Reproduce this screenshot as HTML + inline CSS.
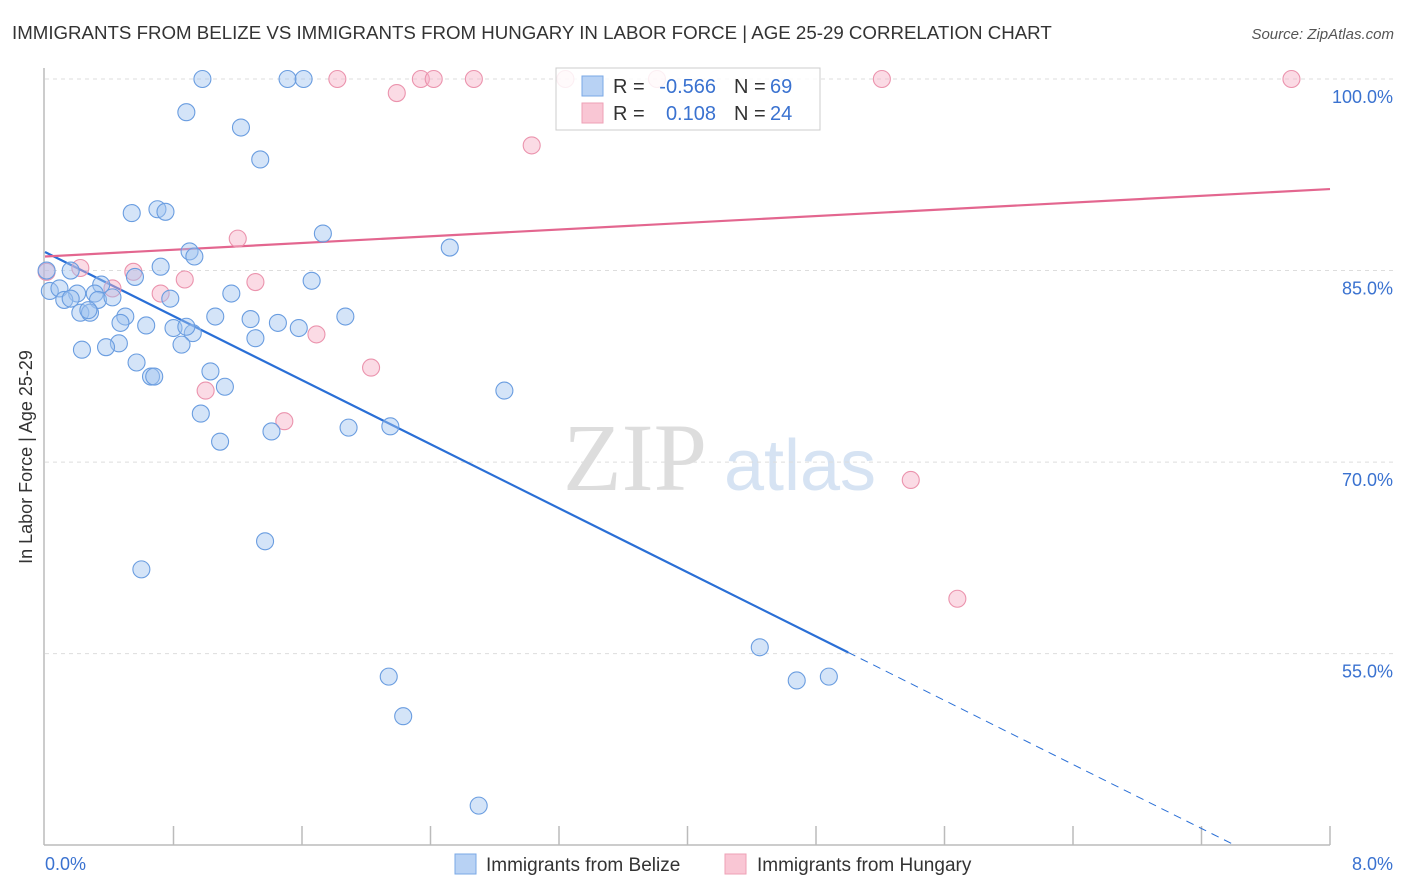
<!DOCTYPE html>
<html><head><meta charset="utf-8"><style>
body{margin:0;background:#fff;font-family:"Liberation Sans",sans-serif;}
svg{display:block}
</style></head><body>
<svg id="chart" width="1406" height="892" viewBox="0 0 1406 892" xmlns="http://www.w3.org/2000/svg">
<text x="12" y="39" font-size="18.7" fill="#333">IMMIGRANTS FROM BELIZE VS IMMIGRANTS FROM HUNGARY IN LABOR FORCE | AGE 25-29 CORRELATION CHART</text>
<text x="1394" y="39" font-size="15" fill="#555" font-style="italic" text-anchor="end">Source: ZipAtlas.com</text>
<g>
<text x="635" y="490" font-size="96" fill="#ddd" text-anchor="middle" font-family="Liberation Serif,serif">ZIP</text>
<text x="800" y="490" font-size="72" fill="#d6e3f3" text-anchor="middle">atlas</text>
</g>
<g id="grid"></g>
<g id="axes"></g>
<g id="trends"></g>
<g id="points"></g>
<text x="32" y="457" font-size="18" fill="#333" text-anchor="middle" transform="rotate(-90 32 457)">In Labor Force | Age 25-29</text>
<text x="45" y="870" font-size="18" fill="#3a72d0">0.0%</text>
<text x="1393" y="870" font-size="18" fill="#3a72d0" text-anchor="end">8.0%</text>
<g>
<rect x="556" y="68" width="264" height="62" fill="#fff" fill-opacity="0.85" stroke="#ccc"/>
<rect x="582" y="76" width="21" height="20" fill="#b8d2f4" stroke="#7aa8e6"/>
<rect x="582" y="103" width="21" height="20" fill="#f9c6d4" stroke="#eea0b6"/>
<text x="613" y="93" font-size="20" fill="#333">R =</text>
<text x="716" y="93" font-size="20" fill="#3a72d0" text-anchor="end">-0.566</text>
<text x="734" y="93" font-size="20" fill="#333">N =</text>
<text x="770" y="93" font-size="20" fill="#3a72d0">69</text>
<text x="613" y="120" font-size="20" fill="#333">R =</text>
<text x="716" y="120" font-size="20" fill="#3a72d0" text-anchor="end">0.108</text>
<text x="734" y="120" font-size="20" fill="#333">N =</text>
<text x="770" y="120" font-size="20" fill="#3a72d0">24</text>
</g>
<g>
<rect x="455" y="854" width="21" height="20" fill="#b8d2f4" stroke="#7aa8e6"/>
<text x="486" y="871" font-size="19" fill="#333">Immigrants from Belize</text>
<rect x="725" y="854" width="21" height="20" fill="#f9c6d4" stroke="#eea0b6"/>
<text x="757" y="871" font-size="19" fill="#333">Immigrants from Hungary</text>
</g>
</svg>
<script>
const blueX=[0.98,1.51,1.61,0.88,1.22,1.34,0.54,0.70,0.75,1.73,2.52,0.90,0.93,0.72,0.56,0.16,0.03,0.09,0.35,1.66,0.20,0.31,0.12,0.33,0.42,0.78,1.16,0.22,0.28,0.50,1.06,1.28,1.87,0.47,0.63,0.80,1.45,1.58,0.92,1.31,0.46,0.85,0.38,0.23,0.57,0.66,0.68,1.03,1.12,2.86,0.97,1.89,2.15,1.41,1.09,1.37,0.60,4.45,4.88,4.68,2.14,2.23,2.70,0.01,0.27,0.16,0.88];
const blueY=[100,100,100,97.4,96.2,93.7,89.5,89.8,89.6,87.9,86.8,86.5,86.1,85.3,84.5,85.0,83.4,83.6,83.9,84.2,83.2,83.2,82.7,82.7,82.9,82.8,83.2,81.7,81.7,81.4,81.4,81.2,81.4,80.9,80.7,80.5,80.9,80.5,80.1,79.7,79.3,79.2,79.0,78.8,77.8,76.7,76.7,77.1,75.9,75.6,73.8,72.7,72.8,72.4,71.6,63.8,61.6,55.5,53.2,52.9,53.2,50.1,43.1,85.0,81.9,82.8,80.6];
const pinkX=[1.82,2.34,2.42,2.67,3.24,3.81,5.21,7.76,2.19,3.03,1.20,0.22,0.55,0.01,0.87,1.31,0.72,0.42,1.69,2.03,1.00,1.49,5.39,5.68];
const pinkY=[100,100,100,100,100,100,100,100,98.9,94.8,87.5,85.2,84.9,84.9,84.3,84.1,83.2,83.6,80.0,77.4,75.6,73.2,68.6,59.3];
const yTicks=[100,85,70,55];
const yTickLabels=["100.0%","85.0%","70.0%","55.0%"];
const xTicks=[0,0.8,1.6,2.4,3.2,4.0,4.8,5.6,6.4,7.2,8.0];
const blueTrend=[86.45,-6.27]; // intercept, slope
const pinkTrend=[86.1,0.66];
const blueSolidEnd=5.0, blueDashEnd=7.41;
const NS="http://www.w3.org/2000/svg";
const X0=45,X1=1330,Y100=79,PXPER=12.77;
function sx(v){return X0+(v/8)*(X1-X0);}
function sy(v){return Y100+(100-v)*PXPER;}
function mk(tag,attrs,parent){const e=document.createElementNS(NS,tag);for(const k in attrs)e.setAttribute(k,attrs[k]);parent.appendChild(e);return e;}
const grid=document.getElementById('grid'),axes=document.getElementById('axes'),trends=document.getElementById('trends'),pts=document.getElementById('points');
yTicks.forEach((t,i)=>{
 const l=mk('line',{x1:X0,x2:1393,y1:sy(t),y2:sy(t),stroke:'#ddd','stroke-dasharray':'4 4'},grid);
 
 
 const tx=mk('text',{x:1393,y:sy(t)+24,'font-size':18,fill:'#3a72d0','text-anchor':'end'},grid);
 tx.textContent=yTickLabels[i];
 
 
});
const ya=mk('line',{x1:44,x2:44,y1:68,y2:845,stroke:'#bbb','stroke-width':1.5},axes);


const xa=mk('line',{x1:44,x2:1330,y1:845,y2:845,stroke:'#bbb','stroke-width':1.5},axes);


xTicks.forEach(t=>{
 if(t===0)return;
 const l=mk('line',{x1:sx(t),x2:sx(t),y1:826,y2:845,stroke:'#bbb','stroke-width':1.5},axes);
 
 
});
function tv(tr,x){return tr[0]+tr[1]*x;}
const bl=mk('line',{x1:sx(0),y1:sy(tv(blueTrend,0)),x2:sx(blueSolidEnd),y2:sy(tv(blueTrend,blueSolidEnd)),stroke:'#2a6fd6','stroke-width':2.2},trends);


const bd=mk('line',{x1:sx(blueSolidEnd),y1:sy(tv(blueTrend,blueSolidEnd)),x2:sx(blueDashEnd),y2:sy(tv(blueTrend,blueDashEnd)),stroke:'#2a6fd6','stroke-width':1,'stroke-dasharray':'8 6'},trends);


const pl=mk('line',{x1:sx(0),y1:sy(tv(pinkTrend,0)),x2:sx(8),y2:sy(tv(pinkTrend,8)),stroke:'#e3668f','stroke-width':2.2},trends);


pinkX.forEach((x,i)=>{
 const c=mk('circle',{cx:sx(x),cy:sy(pinkY[i]),r:8.5,fill:'rgba(246,176,198,0.45)',stroke:'#eb93ad','stroke-width':1.1},pts);
 
 
});
blueX.forEach((x,i)=>{
 const c=mk('circle',{cx:sx(x),cy:sy(blueY[i]),r:8.5,fill:'rgba(160,196,240,0.45)',stroke:'#6a9de0','stroke-width':1.1},pts);
 
 
});
</script>
</body></html>
